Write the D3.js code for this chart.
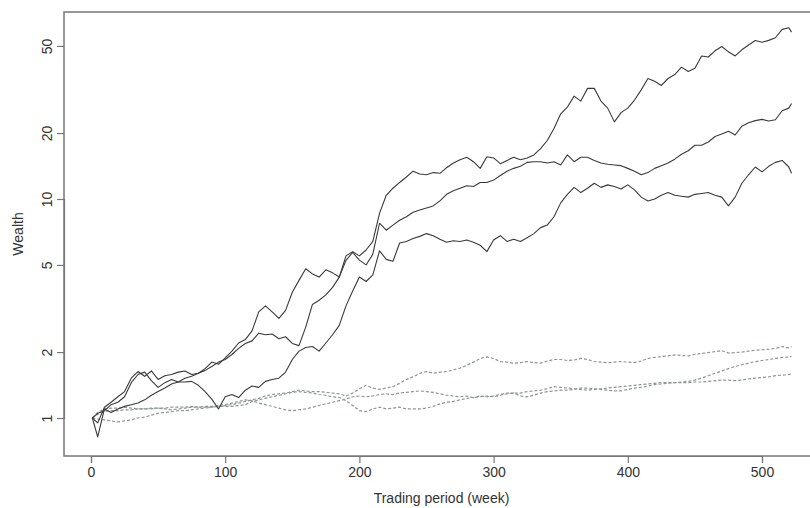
<!DOCTYPE html>
<html>
<head>
<meta charset="utf-8">
<script src="https://cdn.jsdelivr.net/npm/d3@7"></script>
<style>
  html, body { margin: 0; padding: 0; background: #fff; }
  svg { display: block; }
  text { font-family: "Liberation Sans", Arial, Helvetica, sans-serif; fill: #333; }
</style>
</head>
<body>
<svg id="chart" width="810" height="508"></svg>
<script>
// Trading weeks at which each wealth path is sampled
const weeks = [1, 5, 10, 15, 20, 25, 30, 35, 40, 45, 50, 55, 60, 65, 70, 75, 80, 85, 90, 95,
  100, 105, 110, 115, 120, 125, 130, 135, 140, 145, 150, 155, 160, 165, 170, 175, 180, 185, 190, 195,
  200, 205, 210, 215, 220, 225, 230, 235, 240, 245, 250, 255, 260, 265, 270, 275, 280, 285, 290, 295,
  300, 305, 310, 315, 320, 325, 330, 335, 340, 345, 350, 355, 360, 365, 370, 375, 380, 385, 390, 395,
  400, 405, 410, 415, 420, 425, 430, 435, 440, 445, 450, 455, 460, 465, 470, 475, 480, 485, 490, 495,
  500, 505, 510, 515, 520, 522];

// Strategy wealth paths (solid lines)
const strategyA = [1.00, 0.95, 1.12, 1.18, 1.25, 1.32, 1.52, 1.63, 1.55, 1.64, 1.50, 1.56, 1.58, 1.62, 1.64, 1.58, 1.60, 1.68, 1.80, 1.76,
  1.88, 2.02, 2.20, 2.28, 2.50, 3.05, 3.25, 3.05, 2.85, 3.10, 3.75, 4.25, 4.80, 4.55, 4.40, 4.75, 4.60, 4.40, 5.50, 5.75,
  5.50, 5.85, 6.40, 8.60, 10.4, 11.2, 11.9, 12.6, 13.4, 13.0, 12.9, 13.2, 13.1, 13.9, 14.6, 15.1, 15.5, 14.8, 13.8, 15.6,
  15.4, 14.5, 15.0, 15.5, 15.1, 15.4, 15.9, 17.0, 18.5, 21.0, 24.5, 26.3, 29.5, 28.0, 32.0, 32.0, 28.0, 26.0, 22.5, 24.8,
  26.0, 28.3, 31.5, 35.5, 34.5, 33.0, 35.5, 37.0, 40.0, 38.2, 39.5, 45.0, 44.5, 47.5, 49.7, 47.0, 45.0, 48.0, 50.5, 52.9,
  52.0, 53.0, 54.5, 59.5, 60.5, 57.8];
const strategyB = [1.00, 1.05, 1.08, 1.15, 1.18, 1.25, 1.45, 1.58, 1.62, 1.48, 1.38, 1.45, 1.50, 1.46, 1.52, 1.55, 1.60, 1.65, 1.72, 1.80,
  1.85, 1.95, 2.08, 2.19, 2.25, 2.44, 2.40, 2.42, 2.30, 2.35, 2.19, 2.14, 2.60, 3.30, 3.45, 3.65, 3.95, 4.40, 5.25, 5.70,
  5.26, 5.00, 5.60, 7.75, 7.20, 7.60, 8.00, 8.30, 8.70, 8.90, 9.10, 9.30, 9.80, 10.5, 10.9, 11.2, 11.5, 11.4, 11.9, 11.9,
  12.2, 12.8, 13.4, 13.8, 14.1, 14.7, 14.8, 14.8, 14.6, 14.8, 14.3, 15.9, 14.8, 15.5, 15.5, 15.0, 14.6, 14.4, 14.3, 14.2,
  13.8, 13.4, 12.9, 13.2, 13.8, 14.2, 14.6, 15.2, 16.0, 16.6, 17.6, 17.6, 18.2, 19.3, 19.8, 20.4, 19.6, 21.5, 22.3, 22.8,
  23.1, 22.7, 23.0, 25.3, 26.0, 27.3];
const strategyC = [1.00, 0.82, 1.10, 1.06, 1.10, 1.13, 1.15, 1.17, 1.21, 1.27, 1.32, 1.37, 1.43, 1.46, 1.46, 1.47, 1.41, 1.32, 1.22, 1.10,
  1.25, 1.28, 1.24, 1.34, 1.40, 1.38, 1.47, 1.50, 1.52, 1.62, 1.85, 2.02, 2.10, 2.12, 2.02, 2.20, 2.40, 2.65, 3.25, 3.80,
  4.40, 4.20, 4.50, 5.80, 5.30, 5.20, 6.30, 6.40, 6.60, 6.75, 6.95, 6.80, 6.55, 6.35, 6.45, 6.40, 6.50, 6.35, 6.15, 5.75,
  6.50, 6.80, 6.40, 6.55, 6.40, 6.65, 6.95, 7.40, 7.60, 8.30, 9.60, 10.5, 11.3, 10.7, 11.2, 11.8, 11.3, 11.6, 11.4, 11.1,
  11.6, 11.0, 10.2, 9.8, 10.0, 10.4, 10.7, 10.4, 10.3, 10.2, 10.5, 10.6, 10.7, 10.4, 10.2, 9.3, 10.2, 11.8, 12.9, 14.0,
  13.3, 14.1, 14.7, 15.0, 14.0, 13.1];

// Benchmark wealth paths (dashed lines)
const benchmarkA = [1.00, 1.06, 1.10, 1.11, 1.11, 1.12, 1.11, 1.10, 1.10, 1.11, 1.11, 1.10, 1.09, 1.10, 1.11, 1.12, 1.12, 1.12, 1.12, 1.13,
  1.14, 1.15, 1.17, 1.19, 1.21, 1.23, 1.26, 1.28, 1.29, 1.30, 1.32, 1.34, 1.33, 1.32, 1.32, 1.31, 1.30, 1.29, 1.26, 1.30,
  1.36, 1.41, 1.37, 1.35, 1.37, 1.39, 1.44, 1.50, 1.54, 1.60, 1.63, 1.60, 1.62, 1.63, 1.66, 1.69, 1.74, 1.80, 1.87, 1.90,
  1.87, 1.81, 1.80, 1.78, 1.79, 1.81, 1.79, 1.78, 1.82, 1.85, 1.85, 1.83, 1.84, 1.87, 1.85, 1.81, 1.80, 1.79, 1.80, 1.81,
  1.80, 1.79, 1.82, 1.87, 1.89, 1.91, 1.92, 1.94, 1.93, 1.92, 1.95, 1.97, 1.99, 2.01, 2.03, 1.98, 1.99, 2.00, 2.02, 2.04,
  2.05, 2.06, 2.08, 2.12, 2.09, 2.12];
const benchmarkB = [1.00, 0.99, 0.98, 0.97, 0.96, 0.97, 0.98, 1.00, 1.01, 1.03, 1.05, 1.06, 1.07, 1.08, 1.08, 1.09, 1.10, 1.11, 1.12, 1.13,
  1.13, 1.13, 1.14, 1.15, 1.19, 1.21, 1.23, 1.25, 1.27, 1.29, 1.31, 1.32, 1.31, 1.30, 1.28, 1.27, 1.25, 1.24, 1.20, 1.14,
  1.08, 1.07, 1.10, 1.12, 1.10, 1.11, 1.12, 1.10, 1.10, 1.10, 1.11, 1.13, 1.16, 1.18, 1.19, 1.21, 1.23, 1.24, 1.26, 1.25,
  1.26, 1.28, 1.30, 1.30, 1.26, 1.25, 1.27, 1.30, 1.32, 1.33, 1.34, 1.34, 1.35, 1.37, 1.37, 1.36, 1.35, 1.34, 1.33, 1.33,
  1.35, 1.37, 1.38, 1.40, 1.42, 1.43, 1.44, 1.45, 1.46, 1.47, 1.49, 1.52, 1.56, 1.60, 1.64, 1.68, 1.72, 1.75, 1.78, 1.81,
  1.83, 1.85, 1.87, 1.89, 1.90, 1.91];
const benchmarkC = [1.00, 1.04, 1.07, 1.08, 1.08, 1.09, 1.09, 1.10, 1.10, 1.10, 1.11, 1.11, 1.12, 1.12, 1.12, 1.13, 1.12, 1.13, 1.13, 1.14,
  1.15, 1.17, 1.19, 1.21, 1.20, 1.17, 1.15, 1.13, 1.11, 1.09, 1.08, 1.09, 1.10, 1.12, 1.14, 1.16, 1.18, 1.20, 1.22, 1.25,
  1.26, 1.25, 1.26, 1.28, 1.29, 1.28, 1.30, 1.31, 1.32, 1.33, 1.32, 1.31, 1.29, 1.27, 1.26, 1.25, 1.26, 1.24, 1.25, 1.26,
  1.25, 1.27, 1.29, 1.30, 1.30, 1.32, 1.33, 1.34, 1.36, 1.39, 1.38, 1.37, 1.36, 1.35, 1.34, 1.35, 1.36, 1.37, 1.38, 1.39,
  1.40, 1.41, 1.42, 1.43, 1.44, 1.45, 1.45, 1.45, 1.45, 1.45, 1.46, 1.46, 1.47, 1.48, 1.49, 1.49, 1.48, 1.49, 1.51, 1.52,
  1.53, 1.54, 1.56, 1.57, 1.58, 1.59];

// Axis ticks and labels
const xTicks = [0, 100, 200, 300, 400, 500];
const yTicks = [1, 2, 5, 10, 20, 50];
const xTitle = "Trading period (week)";
const yTitle = "Wealth";

const solidSeries = [strategyA, strategyB, strategyC];
const dashedSeries = [benchmarkA, benchmarkB, benchmarkC];
[...solidSeries, ...dashedSeries].forEach((s, i) => {
  if (s.length !== weeks.length) throw new Error("series " + i + " has " + s.length + " values, expected " + weeks.length);
});

const svg = d3.select("#chart");

// Plot region (right edge of the frame runs past the canvas)
const box = { left: 64, top: 12, right: 819, bottom: 456 };

const x = d3.scaleLinear().domain([0, 500]).range([91, 762]);
const y = d3.scaleLog().domain([1, 10]).range([418, 199]);

const line = d3.line()
  .x((d, i) => x(weeks[i]))
  .y(d => y(d));

// Dashed benchmark paths first, solid strategy paths on top
const gLines = svg.append("g");
dashedSeries.forEach(s => {
  gLines.append("path")
    .datum(s)
    .attr("d", line)
    .attr("fill", "none")
    .attr("stroke", "#8d9694")
    .attr("stroke-width", 1.2)
    .attr("stroke-dasharray", "3,2");
});
solidSeries.forEach(s => {
  gLines.append("path")
    .datum(s)
    .attr("d", line)
    .attr("fill", "none")
    .attr("stroke", "#3a3a3a")
    .attr("stroke-width", 1.1)
    .attr("stroke-linejoin", "round");
});

// Frame
svg.append("rect")
  .attr("x", box.left)
  .attr("y", box.top)
  .attr("width", box.right - box.left)
  .attr("height", box.bottom - box.top)
  .attr("fill", "none")
  .attr("stroke", "#777")
  .attr("stroke-width", 1.5);

// Bottom axis
const xAxis = svg.append("g")
  .attr("transform", `translate(0,${box.bottom})`)
  .call(d3.axisBottom(x).tickValues(xTicks).tickSize(7).tickPadding(4).tickFormat(d3.format("d")));
xAxis.select(".domain").attr("stroke", "#777").attr("stroke-width", 1.2);
xAxis.selectAll(".tick line").attr("stroke", "#777").attr("stroke-width", 1.2);
xAxis.selectAll(".tick text")
  .attr("font-size", 14)
  .attr("fill", "#333")
  .style("font-family", "'Liberation Sans', Arial, sans-serif");

// Left axis with labels turned parallel to the axis
const yAxis = svg.append("g")
  .attr("transform", `translate(${box.left},0)`)
  .call(d3.axisLeft(y).tickValues(yTicks).tickSize(7).tickFormat(d3.format("d")));
yAxis.select(".domain").attr("stroke", "#777").attr("stroke-width", 1.2);
yAxis.selectAll(".tick line").attr("stroke", "#777").attr("stroke-width", 1.2);
yAxis.selectAll(".tick text")
  .attr("x", null)
  .attr("dy", null)
  .attr("transform", "translate(-17,0) rotate(-90)")
  .attr("text-anchor", "middle")
  .attr("dominant-baseline", "central")
  .attr("font-size", 14)
  .attr("fill", "#333")
  .style("font-family", "'Liberation Sans', Arial, sans-serif");

// Axis titles
svg.append("text")
  .attr("x", (box.left + box.right) / 2)
  .attr("y", 503)
  .attr("text-anchor", "middle")
  .attr("font-size", 14)
  .text(xTitle);

svg.append("text")
  .attr("transform", `translate(23,${(box.top + box.bottom) / 2}) rotate(-90)`)
  .attr("text-anchor", "middle")
  .attr("font-size", 14)
  .text(yTitle);
</script>
</body>
</html>
